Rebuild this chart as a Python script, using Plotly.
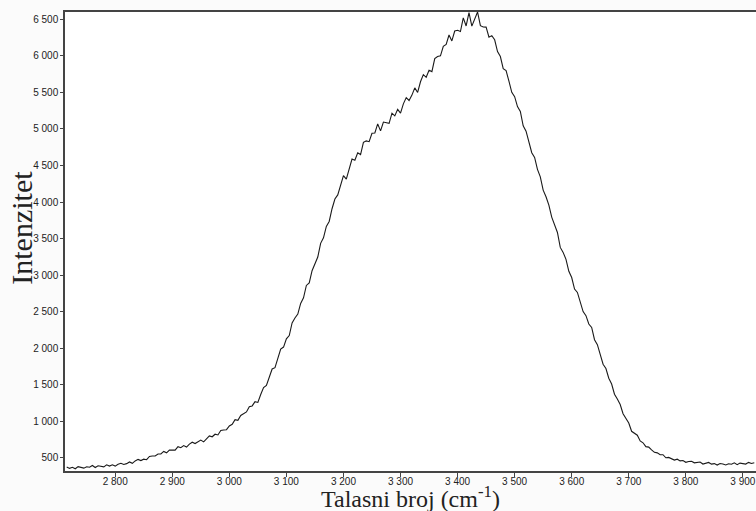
import plotly.graph_objects as go

# Raman spectrum intensity values, read every 5 cm^-1 starting at 2715 cm^-1
start_wavenumber = 2715
step_wavenumber = 5
intensity = [
    378, 358, 372, 352, 382, 374, 361, 380, 374, 398, 369, 394, 388, 379, 407, 390, 407, 389, 414, 428,
    411, 423, 446, 427, 460, 481, 465, 484, 477, 521, 527, 527, 555, 556, 590, 571, 607,
    610, 607, 655, 640, 670, 650, 690, 716, 698, 718, 745, 720, 768, 802, 790, 825, 815, 875, 882, 887,
    938, 960, 1025, 1015, 1082, 1108, 1130, 1202, 1212, 1270,
    1260, 1369, 1462, 1493, 1595, 1717, 1735, 1879, 1990, 2017, 2129, 2175, 2347, 2415, 2468, 2614, 2691,
    2860, 2894, 3062, 3150, 3248, 3436, 3511, 3668, 3735, 3909, 4042, 4098, 4215,
    4362, 4315, 4471, 4588, 4572, 4674, 4650, 4817, 4837, 4826, 4941, 4946, 5070, 4974, 5095, 5090, 5078,
    5216, 5179, 5268, 5217, 5344, 5429, 5390, 5463, 5562, 5500, 5646, 5743, 5707, 5804, 5785, 5962, 5992,
    6001, 6131, 6156, 6285, 6204, 6340, 6350, 6333, 6520, 6409, 6590, 6407, 6494, 6600,
    6413, 6395, 6393, 6255, 6277, 6220, 6058, 5991, 5825, 5798, 5655, 5502,
    5442, 5307, 5240, 5043, 4970, 4825, 4676, 4612, 4448, 4346, 4164, 4073, 3958, 3795, 3696, 3584, 3380,
    3312, 3216, 3054, 2968, 2810, 2764, 2639, 2502, 2447, 2332, 2285, 2118, 2050,
    1910, 1782, 1724, 1591, 1512, 1373, 1306, 1231, 1105, 1037, 978, 865, 839, 812,
    734, 708, 655, 649, 612, 577, 570, 545, 545, 503, 508, 490, 471, 484, 460, 466, 441, 453, 456, 434,
    438, 445, 417, 433, 439, 416, 423, 403, 424, 417, 404, 421, 415, 434, 408, 430, 425, 417, 440, 424,
    436,
]
wavenumber = [start_wavenumber + step_wavenumber * i for i in range(len(intensity))]

x_tick_values = [2800, 2900, 3000, 3100, 3200, 3300, 3400, 3500, 3600, 3700, 3800, 3900]
x_tick_labels = ["2 800", "2 900", "3 000", "3 100", "3 200", "3 300", "3 400", "3 500", "3 600", "3 700", "3 800", "3 900"]
y_tick_values = [500, 1000, 1500, 2000, 2500, 3000, 3500, 4000, 4500, 5000, 5500, 6000, 6500]
y_tick_labels = ["500", "1 000", "1 500", "2 000", "2 500", "3 000", "3 500", "4 000", "4 500", "5 000", "5 500", "6 000", "6 500"]

x_title = "Talasni broj (cm<sup>-1</sup>)"
y_title = "Intenzitet"

fig = go.Figure()
fig.add_trace(go.Scatter(
    x=wavenumber, y=intensity, mode="lines",
    line=dict(color="#1a1a1a", width=1.1),
    showlegend=False, hoverinfo="skip",
))

tick_font = dict(family="Liberation Sans, Arial, sans-serif", size=10, color="#222222")
serif = "Liberation Serif, Times New Roman, serif"

fig.update_layout(
    width=756, height=511,
    margin=dict(l=65, r=0, t=12, b=40),
    paper_bgcolor="#fbfbfb", plot_bgcolor="#ffffff",
    xaxis=dict(
        range=[2712, 3923], tickvals=x_tick_values, ticktext=x_tick_labels,
        showgrid=False, zeroline=False, showline=True, mirror=True,
        linecolor="#444444", linewidth=1.5, ticks="outside", ticklen=4,
        tickcolor="#444444", tickfont=tick_font, ticklabelstandoff=-4,
    ),
    yaxis=dict(
        range=[322, 6600], tickvals=y_tick_values, ticktext=y_tick_labels,
        showgrid=False, zeroline=False, showline=True,
        linecolor="#444444", linewidth=1.5, ticks="outside", ticklen=3,
        tickcolor="#444444", tickfont=tick_font,
    ),
    annotations=[
        dict(text=x_title, xref="paper", yref="paper", x=0.5, y=0,
             xanchor="center", yanchor="middle", yshift=-26, showarrow=False,
             font=dict(family=serif, size=24, color="#222222")),
        dict(text=y_title, xref="paper", yref="paper", x=0, y=0.53,
             xanchor="center", yanchor="middle", xshift=-43, textangle=-90,
             showarrow=False, font=dict(family=serif, size=30, color="#222222")),
    ],
)

fig.write_html("out.html")
